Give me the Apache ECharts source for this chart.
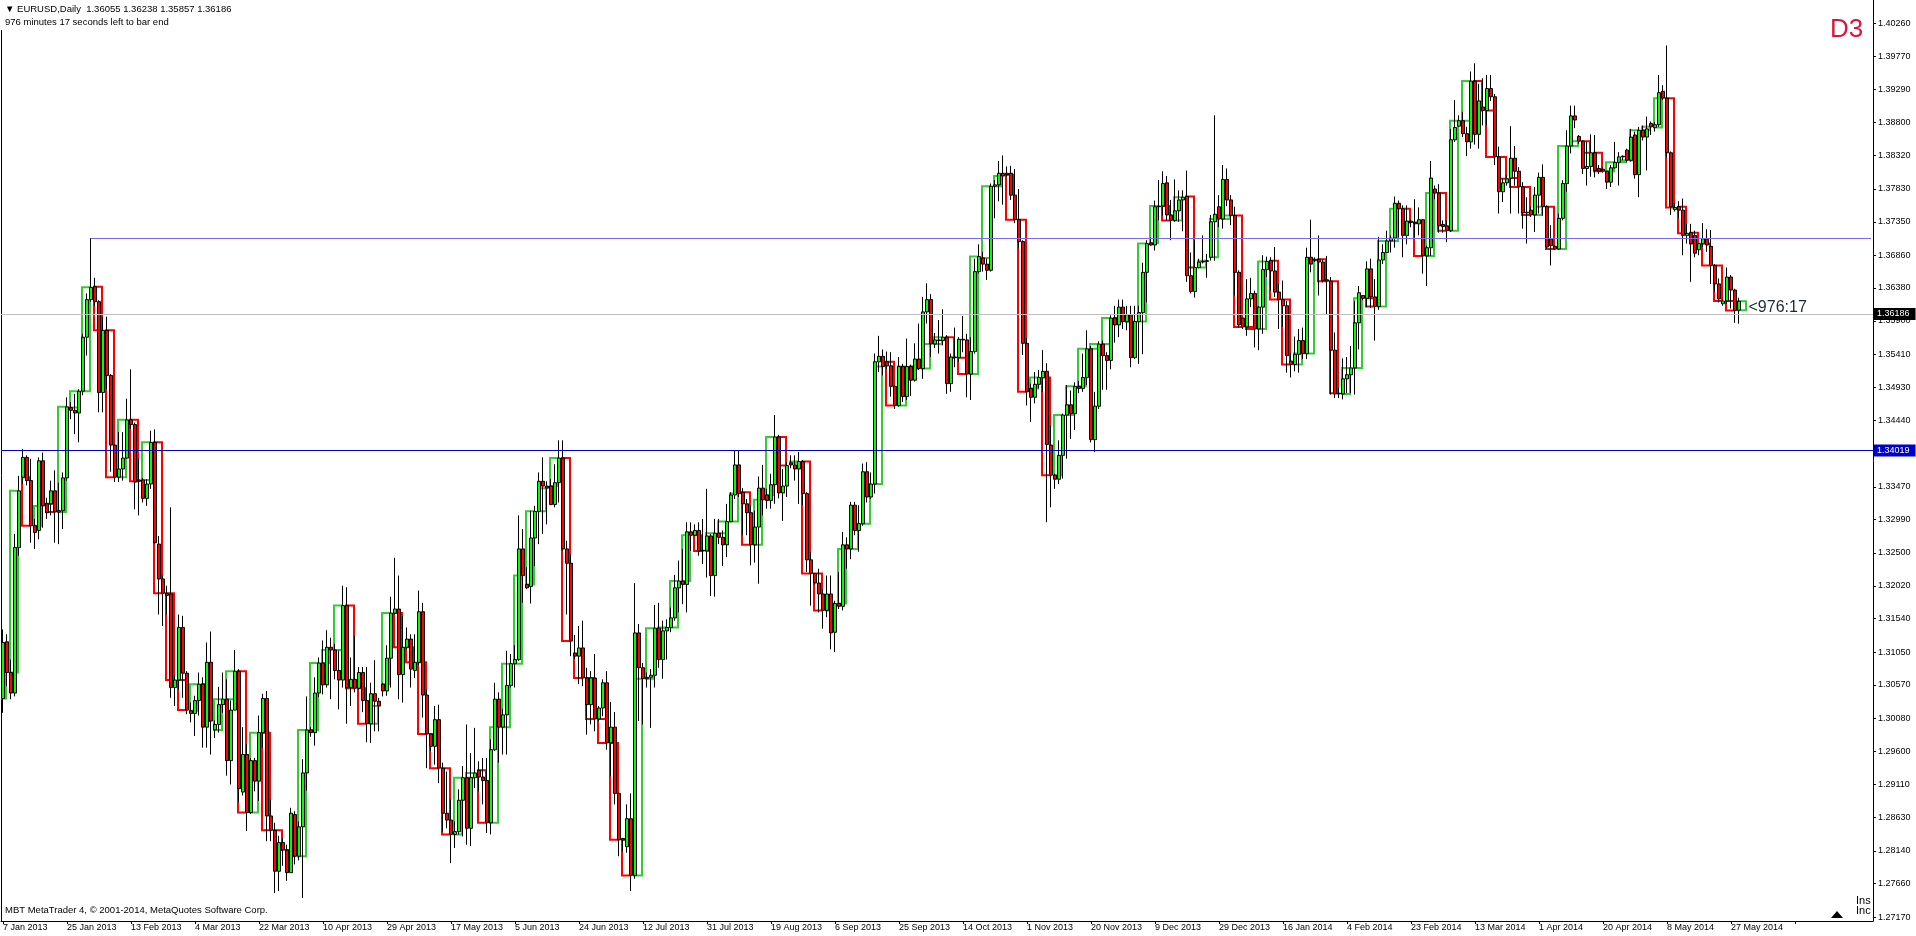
<!DOCTYPE html>
<html><head><meta charset="utf-8">
<script src="https://cdn.jsdelivr.net/npm/echarts@6/dist/echarts.min.js"></script>
<style>html,body{margin:0;padding:0;background:#fff;overflow:hidden}#c{width:1916px;height:936px}</style>
</head><body><div id="c"></div>
<script>
// ---- data ----
const symbolName = 'EURUSD,Daily';
const timerText = '<976:17';
const timerLine = '976 minutes 17 seconds left to bar end';
const xLabels = ['7 Jan 2013','25 Jan 2013','13 Feb 2013','4 Mar 2013','22 Mar 2013','10 Apr 2013','29 Apr 2013','17 May 2013','5 Jun 2013','24 Jun 2013','12 Jul 2013','31 Jul 2013','19 Aug 2013','6 Sep 2013','25 Sep 2013','14 Oct 2013','1 Nov 2013','20 Nov 2013','9 Dec 2013','29 Dec 2013','16 Jan 2014','4 Feb 2014','23 Feb 2014','13 Mar 2014','1 Apr 2014','20 Apr 2014','8 May 2014','27 May 2014'];
const labelStep = 16;
const yTicks = [1.40260,1.39770,1.39290,1.38800,1.38320,1.37830,1.37350,1.36860,1.36380,1.35900,1.35410,1.34930,1.34440,1.33950,1.33470,1.32990,1.32500,1.32020,1.31540,1.31050,1.30570,1.30080,1.29600,1.29110,1.28630,1.28140,1.27660,1.27170];
const bidPrice = 1.36186;
const supportLevel = 1.34019;
const resistanceLevel = 1.37107;
const resistanceStartBar = 22;

const openP = [
1.3037,1.3120,1.3075,1.3045,1.3258,1.3361,1.3390,1.3356,1.3290,1.3283,
1.3385,1.3322,1.3322,1.3341,1.3310,1.3312,1.3360,1.3463,1.3459,1.3455,
1.3487,1.3566,1.3621,1.3640,1.3618,1.3485,1.3576,1.3510,1.3408,1.3361,
1.3373,1.3389,1.3445,1.3438,1.3357,1.3357,1.3330,1.3351,1.3412,1.3263,
1.3212,1.3191,1.3190,1.3053,1.3064,1.3141,1.3074,1.3019,1.3015,1.3034,
1.3058,1.2995,1.3090,1.2991,1.2999,1.3028,1.3036,1.2946,1.3020,1.3077,
1.2900,1.2955,1.2870,1.2946,1.2916,1.2987,1.3037,1.2865,1.2844,1.2784,
1.2826,1.2815,1.2782,1.2867,1.2806,1.2849,1.2928,1.2991,1.2987,1.3045,
1.3089,1.3057,1.3112,1.3108,1.3078,1.3064,1.3173,1.3053,1.3065,1.3052,
1.3075,1.3034,1.3000,1.3044,1.3033,1.3058,1.3048,1.3096,1.3162,1.3168,
1.3072,1.3112,1.3124,1.3078,1.3090,1.3164,1.3042,1.2985,1.2967,1.3006,
1.2935,1.2869,1.2859,1.2838,1.2842,1.2888,1.2921,1.2847,1.2921,1.2932,
1.2922,1.2917,1.2855,1.2962,1.3036,1.2995,1.3013,1.3056,1.3088,1.3094,
1.3256,1.3204,1.3201,1.3272,1.3311,1.3355,1.3348,1.3348,1.3321,1.3353,
1.3389,1.3256,1.3235,1.3103,1.3099,1.3111,1.3067,1.3028,1.3067,1.3007,
1.3023,1.3060,1.2972,1.2995,1.2898,1.2830,1.2820,1.2861,1.2778,1.3133,
1.3082,1.3066,1.3068,1.3071,1.3140,1.3094,1.3136,1.3141,1.3155,1.3199,
1.3209,1.3204,1.3281,1.3276,1.3283,1.3254,1.3253,1.3275,1.3217,1.3279,
1.3273,1.3262,1.3296,1.3335,1.3379,1.3339,1.3322,1.3309,1.3262,1.3288,
1.3345,1.3335,1.3327,1.3350,1.3420,1.3338,1.3348,1.3382,1.3379,1.3373,
1.3384,1.3337,1.3240,1.3220,1.3206,1.3190,1.3166,1.3190,1.3134,1.3176,
1.3172,1.3262,1.3256,1.3320,1.3283,1.3293,1.3369,1.3332,1.3351,1.3530,
1.3538,1.3530,1.3524,1.3494,1.3466,1.3523,1.3479,1.3523,1.3503,1.3534,
1.3520,1.3603,1.3621,1.3556,1.3562,1.3561,1.3566,1.3498,1.3537,1.3536,
1.3563,1.3562,1.3512,1.3545,1.3662,1.3682,1.3673,1.3664,1.3787,1.3789,
1.3806,1.3804,1.3806,1.3774,1.3738,1.3706,1.3557,1.3491,1.3478,1.3497,
1.3507,1.3516,1.3408,1.3364,1.3358,1.3393,1.3452,1.3467,1.3454,1.3494,
1.3491,1.3507,1.3549,1.3416,1.3465,1.3556,1.3539,1.3532,1.3594,1.3584,
1.3610,1.3589,1.3599,1.3536,1.3589,1.3602,1.3661,1.3704,1.3701,1.3757,
1.3758,1.3792,1.3745,1.3737,1.3751,1.3767,1.3772,1.3656,1.3633,1.3668,
1.3676,1.3677,1.3683,1.3735,1.3757,1.3739,1.3797,1.3767,1.3744,1.3661,
1.3594,1.3581,1.3622,1.3630,1.3578,1.3610,1.3665,1.3678,1.3663,1.3632,
1.3621,1.3612,1.3531,1.3526,1.3541,1.3561,1.3542,1.3683,1.3678,1.3680,
1.3676,1.3650,1.3648,1.3547,1.3483,1.3483,1.3505,1.3511,1.3521,1.3587,
1.3627,1.3623,1.3666,1.3625,1.3611,1.3679,1.3690,1.3707,1.3711,1.3762,
1.3754,1.3715,1.3736,1.3734,1.3732,1.3738,1.3685,1.3697,1.3783,1.3777,
1.3731,1.3729,1.3722,1.3855,1.3875,1.3883,1.3864,1.3852,1.3941,1.3863,
1.3903,1.3898,1.3930,1.3918,1.3830,1.3779,1.3792,1.3799,1.3828,1.3809,
1.3786,1.3748,1.3752,1.3745,1.3774,1.3800,1.3757,1.3710,1.3699,1.3695,
1.3740,1.3791,1.3846,1.3890,1.3860,1.3853,1.3813,1.3816,1.3836,1.3813,
1.3812,1.3809,1.3793,1.3814,1.3822,1.3830,1.3840,1.3825,1.3862,1.3804,
1.3869,1.3859,1.3879,1.3873,1.3877,1.3926,1.3916,1.3836,1.3753,1.3757,
1.3752,1.3715,1.3719,1.3715,1.3694,1.3703,1.3710,1.3699,1.3671,1.3644,
1.3615,1.3619,1.3654,1.3635,1.36055];

const highP = [
1.3138,1.3131,1.3094,1.3278,1.3363,1.3402,1.3393,1.3388,1.3300,1.3390,
1.3397,1.3331,1.3356,1.3371,1.3353,1.3368,1.3478,1.3471,1.3483,1.3490,
1.3571,1.3630,1.3711,1.3653,1.3620,1.3596,1.3596,1.3512,1.3410,1.3427,
1.3427,1.3476,1.3519,1.3441,1.3388,1.3360,1.3358,1.3429,1.3431,1.3275,
1.3217,1.3202,1.3317,1.3070,1.3160,1.3158,1.3077,1.3031,1.3041,1.3075,
1.3068,1.3119,1.3135,1.3005,1.3054,1.3075,1.3065,1.3034,1.3108,1.3080,
1.2995,1.2970,1.2950,1.2950,1.3012,1.3044,1.3048,1.2889,1.2855,1.2836,
1.2833,1.2823,1.2877,1.2872,1.2857,1.2948,1.3040,1.2995,1.3068,1.3097,
1.3122,1.3137,1.3126,1.3117,1.3107,1.3202,1.3200,1.3097,1.3129,1.3083,
1.3083,1.3083,1.3060,1.3093,1.3038,1.3060,1.3115,1.3186,1.3243,1.3217,
1.3158,1.3141,1.3131,1.3131,1.3195,1.3177,1.3050,1.2986,1.3026,1.3028,
1.2943,1.2930,1.2889,1.2857,1.2904,1.2938,1.2999,1.2957,1.2994,1.2945,
1.2950,1.2950,1.2977,1.3060,1.3046,1.3022,1.3107,1.3102,1.3115,1.3305,
1.3285,1.3229,1.3312,1.3319,1.3368,1.3390,1.3355,1.3358,1.3380,1.3415,
1.3415,1.3268,1.3248,1.3130,1.3143,1.3151,1.3082,1.3077,1.3102,1.3026,
1.3065,1.3077,1.3032,1.3017,1.2899,1.2833,1.2882,1.2898,1.3206,1.3146,
1.3089,1.3075,1.3080,1.3174,1.3177,1.3151,1.3153,1.3170,1.3218,1.3239,
1.3256,1.3295,1.3295,1.3292,1.3295,1.3300,1.3344,1.3278,1.3300,1.3300,
1.3283,1.3322,1.3339,1.3400,1.3400,1.3345,1.3329,1.3320,1.3312,1.3362,
1.3379,1.3344,1.3366,1.3452,1.3423,1.3373,1.3383,1.3393,1.3393,1.3398,
1.3386,1.3339,1.3251,1.3220,1.3227,1.3197,1.3217,1.3217,1.3180,1.3222,
1.3281,1.3273,1.3325,1.3325,1.3320,1.3381,1.3383,1.3368,1.3542,1.3568,
1.3548,1.3545,1.3544,1.3496,1.3537,1.3527,1.3564,1.3526,1.3557,1.3586,
1.3625,1.3645,1.3629,1.3572,1.3591,1.3607,1.3569,1.3542,1.3580,1.3566,
1.3597,1.3571,1.3566,1.3681,1.3702,1.3691,1.3681,1.3791,1.3796,1.3824,
1.3832,1.3816,1.3817,1.3812,1.3783,1.3708,1.3565,1.3498,1.3515,1.3518,
1.3547,1.3528,1.3437,1.3366,1.3415,1.3454,1.3496,1.3488,1.3500,1.3502,
1.3542,1.3576,1.3553,1.3486,1.3560,1.3561,1.3544,1.3598,1.3612,1.3621,
1.3621,1.3612,1.3612,1.3612,1.3612,1.3675,1.3708,1.3712,1.3766,1.3796,
1.3809,1.3802,1.3767,1.3797,1.3781,1.3781,1.3810,1.3690,1.3708,1.3681,
1.3715,1.3688,1.3745,1.3891,1.3774,1.3818,1.3813,1.3774,1.3757,1.3664,
1.3595,1.3651,1.3653,1.3634,1.3612,1.3686,1.3684,1.3683,1.3698,1.3644,
1.3649,1.3619,1.3543,1.3567,1.3578,1.3580,1.3697,1.3738,1.3683,1.3715,
1.3680,1.3685,1.3654,1.3573,1.3492,1.3535,1.3537,1.3553,1.3619,1.3641,
1.3627,1.3677,1.3681,1.3651,1.3713,1.3702,1.3722,1.3715,1.3772,1.3766,
1.3759,1.3759,1.3739,1.3768,1.3756,1.3739,1.3700,1.3824,1.3788,1.3790,
1.3737,1.3737,1.3871,1.3913,1.3891,1.3896,1.3874,1.3955,1.3967,1.3937,
1.3945,1.3950,1.3950,1.3922,1.3845,1.3798,1.3803,1.3875,1.3846,1.3815,
1.3793,1.3771,1.3757,1.3786,1.3807,1.3819,1.3759,1.3730,1.3701,1.3747,
1.3796,1.3869,1.3905,1.3905,1.3862,1.3854,1.3852,1.3863,1.3862,1.3818,
1.3815,1.3810,1.3818,1.3852,1.3837,1.3832,1.3842,1.3871,1.3867,1.3874,
1.3876,1.3889,1.3882,1.3881,1.3950,1.3935,1.3993,1.3838,1.3762,1.3765,
1.3769,1.3732,1.3732,1.3722,1.3703,1.3733,1.3724,1.3723,1.3673,1.3652,
1.3622,1.3668,1.3657,1.3637,1.36238];

const lowP = [
1.3016,1.3055,1.3036,1.3040,1.3246,1.3351,1.3349,1.3265,1.3256,1.3270,
1.3287,1.3300,1.3305,1.3265,1.3263,1.3285,1.3356,1.3446,1.3424,1.3412,
1.3481,1.3539,1.3618,1.3612,1.3456,1.3456,1.3490,1.3369,1.3354,1.3354,
1.3356,1.3388,1.3432,1.3314,1.3305,1.3324,1.3319,1.3344,1.3263,1.3160,
1.3143,1.3160,1.3038,1.3026,1.3050,1.3038,1.3014,1.3002,1.2982,1.3012,
1.2965,1.2965,1.2955,1.2979,1.2987,1.3016,1.2924,1.2911,1.3020,1.2885,
1.2895,1.2843,1.2868,1.2901,1.2887,1.2965,1.2828,1.2828,1.2752,1.2755,
1.2792,1.2770,1.2782,1.2794,1.2800,1.2745,1.2902,1.2981,1.2968,1.3039,
1.3043,1.3053,1.3036,1.3065,1.3021,1.3053,1.3000,1.3026,1.3046,1.3050,
1.3017,1.2973,1.2972,1.2989,1.2989,1.3040,1.3041,1.3053,1.3160,1.3036,
1.3031,1.3109,1.3053,1.3067,1.3086,1.3009,1.2935,1.2960,1.2940,1.2913,
1.2842,1.2847,1.2796,1.2818,1.2838,1.2835,1.2823,1.2821,1.2906,1.2901,
1.2882,1.2840,1.2838,1.2960,1.2943,1.2955,1.2955,1.3053,1.3053,1.3092,
1.3177,1.3197,1.3176,1.3231,1.3263,1.3278,1.3292,1.3320,1.3317,1.3324,
1.3253,1.3160,1.3099,1.3095,1.3058,1.3055,1.2984,1.2999,1.2989,1.3004,
1.3011,1.2962,1.2923,1.2882,1.2806,1.2813,1.2811,1.2755,1.2773,1.3004,
1.2999,1.3053,1.2994,1.3053,1.3082,1.3066,1.3094,1.3134,1.3151,1.3163,
1.3175,1.3163,1.3253,1.3275,1.3246,1.3234,1.3214,1.3187,1.3186,1.3263,
1.3231,1.3244,1.3295,1.3329,1.3332,1.3276,1.3276,1.3232,1.3236,1.3205,
1.3305,1.3315,1.3315,1.3322,1.3330,1.3297,1.3332,1.3374,1.3356,1.3322,
1.3320,1.3222,1.3173,1.3204,1.3163,1.3139,1.3156,1.3109,1.3105,1.3168,
1.3166,1.3227,1.3241,1.3276,1.3252,1.3290,1.3324,1.3329,1.3337,1.3515,
1.3510,1.3520,1.3479,1.3461,1.3464,1.3471,1.3474,1.3480,1.3501,1.3518,
1.3505,1.3586,1.3537,1.3550,1.3542,1.3554,1.3483,1.3486,1.3522,1.3530,
1.3544,1.3478,1.3474,1.3542,1.3659,1.3662,1.3650,1.3662,1.3740,1.3765,
1.3760,1.3801,1.3767,1.3733,1.3696,1.3540,1.3466,1.3442,1.3469,1.3491,
1.3486,1.3295,1.3317,1.3344,1.3351,1.3359,1.3388,1.3417,1.3430,1.3484,
1.3486,1.3496,1.3412,1.3398,1.3461,1.3489,1.3489,1.3519,1.3558,1.3566,
1.3578,1.3576,1.3522,1.3534,1.3527,1.3541,1.3617,1.3700,1.3693,1.3737,
1.3744,1.3737,1.3708,1.3735,1.3735,1.3721,1.3647,1.3630,1.3624,1.3667,
1.3674,1.3653,1.3678,1.3678,1.3727,1.3725,1.3758,1.3730,1.3627,1.3580,
1.3578,1.3568,1.3610,1.3551,1.3547,1.3571,1.3654,1.3634,1.3625,1.3578,
1.3581,1.3514,1.3507,1.3516,1.3514,1.3534,1.3534,1.3661,1.3676,1.3627,
1.3646,1.3600,1.3482,1.3477,1.3477,1.3475,1.3484,1.3484,1.3482,1.3548,
1.3620,1.3610,1.3609,1.3561,1.3606,1.3673,1.3690,1.3690,1.3697,1.3712,
1.3683,1.3702,1.3727,1.3712,1.3715,1.3659,1.3641,1.3685,1.3768,1.3719,
1.3719,1.3705,1.3720,1.3852,1.3874,1.3859,1.3831,1.3842,1.3848,1.3842,
1.3876,1.3876,1.3912,1.3818,1.3747,1.3764,1.3788,1.3747,1.3788,1.3747,
1.3725,1.3703,1.3742,1.3720,1.3747,1.3744,1.3695,1.3671,1.3694,1.3694,
1.3737,1.3779,1.3835,1.3872,1.3849,1.3805,1.3788,1.3801,1.3800,1.3805,
1.3807,1.3783,1.3786,1.3813,1.3788,1.3825,1.3822,1.3823,1.3798,1.3771,
1.3854,1.3810,1.3862,1.3867,1.3874,1.3913,1.3829,1.3745,1.3750,1.3740,
1.3686,1.3703,1.3647,1.3683,1.3686,1.3698,1.3691,1.3644,1.3632,1.3617,
1.3612,1.3615,1.3608,1.3587,1.35857];

const closeP = [
1.3119,1.3075,1.3045,1.3258,1.3341,1.3390,1.3356,1.3290,1.3280,1.3385,
1.3319,1.3309,1.3341,1.3310,1.3312,1.3360,1.3464,1.3459,1.3455,1.3487,
1.3566,1.3621,1.3639,1.3618,1.3485,1.3576,1.3510,1.3408,1.3361,1.3373,
1.3389,1.3445,1.3438,1.3354,1.3355,1.3330,1.3351,1.3412,1.3265,1.3212,
1.3191,1.3188,1.3053,1.3064,1.3141,1.3074,1.3020,1.3015,1.3034,1.3058,
1.2995,1.3090,1.3004,1.2999,1.3028,1.3036,1.2946,1.3020,1.3077,1.2905,
1.2955,1.2870,1.2946,1.2916,1.2987,1.3037,1.2865,1.2844,1.2784,1.2826,
1.2815,1.2782,1.2869,1.2806,1.2849,1.2928,1.2991,1.2987,1.3045,1.3089,
1.3057,1.3112,1.3108,1.3078,1.3064,1.3173,1.3053,1.3065,1.3052,1.3075,
1.3034,1.3000,1.3044,1.3033,1.3026,1.3048,1.3096,1.3162,1.3168,1.3072,
1.3112,1.3124,1.3080,1.3090,1.3164,1.3042,1.2985,1.2967,1.3006,1.2935,
1.2869,1.2859,1.2838,1.2842,1.2888,1.2921,1.2847,1.2921,1.2928,1.2922,
1.2917,1.2855,1.2962,1.3036,1.2995,1.3013,1.3056,1.3088,1.3094,1.3256,
1.3217,1.3199,1.3272,1.3311,1.3355,1.3348,1.3345,1.3321,1.3353,1.3389,
1.3256,1.3235,1.3121,1.3099,1.3111,1.3067,1.3028,1.3067,1.3007,1.3023,
1.3060,1.2972,1.2995,1.2898,1.2830,1.2832,1.2861,1.2778,1.3133,1.3082,
1.3066,1.3068,1.3071,1.3140,1.3094,1.3136,1.3141,1.3155,1.3199,1.3209,
1.3204,1.3281,1.3276,1.3283,1.3253,1.3253,1.3275,1.3217,1.3279,1.3273,
1.3262,1.3296,1.3335,1.3379,1.3337,1.3322,1.3309,1.3262,1.3288,1.3345,
1.3328,1.3327,1.3350,1.3420,1.3338,1.3348,1.3378,1.3379,1.3373,1.3384,
1.3337,1.3240,1.3220,1.3206,1.3190,1.3166,1.3190,1.3133,1.3176,1.3172,
1.3262,1.3256,1.3320,1.3283,1.3293,1.3369,1.3332,1.3351,1.3530,1.3538,
1.3523,1.3524,1.3494,1.3466,1.3523,1.3479,1.3523,1.3503,1.3534,1.3520,
1.3603,1.3621,1.3556,1.3562,1.3561,1.3566,1.3498,1.3537,1.3536,1.3563,
1.3562,1.3512,1.3545,1.3662,1.3684,1.3673,1.3664,1.3787,1.3789,1.3806,
1.3802,1.3806,1.3774,1.3738,1.3706,1.3557,1.3486,1.3478,1.3497,1.3507,
1.3516,1.3409,1.3364,1.3358,1.3393,1.3452,1.3467,1.3454,1.3494,1.3491,
1.3507,1.3549,1.3416,1.3465,1.3556,1.3539,1.3532,1.3594,1.3584,1.3610,
1.3589,1.3599,1.3536,1.3589,1.3602,1.3661,1.3703,1.3701,1.3757,1.3758,
1.3791,1.3745,1.3737,1.3751,1.3767,1.3771,1.3656,1.3633,1.3668,1.3676,
1.3677,1.3678,1.3735,1.3746,1.3739,1.3797,1.3767,1.3744,1.3661,1.3584,
1.3581,1.3622,1.3630,1.3578,1.3610,1.3665,1.3677,1.3663,1.3632,1.3621,
1.3612,1.3539,1.3526,1.3541,1.3561,1.3542,1.3683,1.3673,1.3680,1.3676,
1.3649,1.3648,1.3547,1.3483,1.3484,1.3505,1.3511,1.3521,1.3587,1.3631,
1.3623,1.3666,1.3625,1.3611,1.3679,1.3690,1.3707,1.3711,1.3762,1.3754,
1.3715,1.3736,1.3734,1.3732,1.3738,1.3685,1.3697,1.3799,1.3777,1.3729,
1.3728,1.3722,1.3855,1.3873,1.3883,1.3864,1.3852,1.3941,1.3863,1.3912,
1.3898,1.3930,1.3918,1.3830,1.3779,1.3792,1.3798,1.3828,1.3809,1.3786,
1.3748,1.3749,1.3745,1.3774,1.3800,1.3757,1.3698,1.3700,1.3695,1.3740,
1.3791,1.3846,1.3890,1.3884,1.3853,1.3813,1.3816,1.3836,1.3810,1.3809,
1.3809,1.3793,1.3814,1.3822,1.3830,1.3831,1.3825,1.3859,1.3804,1.3869,
1.3859,1.3871,1.3874,1.3877,1.3924,1.3916,1.3836,1.3757,1.3756,1.3752,
1.3715,1.3718,1.3703,1.3689,1.3703,1.3710,1.3701,1.3671,1.3644,1.3622,
1.3619,1.3654,1.3635,1.3605,1.36186];

// ---- layout / scale settings ----
const slotCount = 468;         // bars + chart shift space
const yMax = 1.40597, yMin = 1.27112;
const groupSize = 3, firstGroupStart = 2;

const cats = Array.from({length: slotCount}, (_, i) => String(i));
const candleData = openP.map((o, i) => [o, closeP[i], lowP[i], highP[i]]);
const last = openP.length - 1;

// 3-bar aggregated boxes (D3)
const boxes = [[0, 1, openP[0], closeP[1]]];
for (let s = firstGroupStart; s <= last; s += groupSize) {
  const e = Math.min(s + groupSize - 1, last);
  boxes.push([s, s + groupSize - 1, openP[s], closeP[e]]);
}

const FONT = '"Liberation Sans", "DejaVu Sans", sans-serif';
const chart = echarts.init(document.getElementById('c'), null, {renderer: 'canvas'});
const f5 = v => v.toFixed(5);

chart.setOption({
  animation: false,
  backgroundColor: '#ffffff',
  grid: {left: 1, right: 43, top: 0, bottom: 15, show: false},
  xAxis: {
    type: 'category', data: cats, boundaryGap: true,
    axisLine: {show: true, lineStyle: {color: '#000', width: 1}},
    axisTick: {show: true, interval: labelStep - 1, alignWithLabel: true, length: 3, lineStyle: {color: '#000'}},
    axisLabel: {
      interval: labelStep - 1, hideOverlap: false, showMaxLabel: false,
      formatter: (v, idx) => (idx % labelStep === 0 && xLabels[idx / labelStep]) ? xLabels[idx / labelStep] : '',
      align: 'left', margin: 2, fontSize: 9, color: '#000', fontFamily: FONT
    },
    splitLine: {show: false}
  },
  yAxis: {
    type: 'value', position: 'right', min: yMin, max: yMax,
    axisLine: {show: true, onZero: false, lineStyle: {color: '#000', width: 1}},
    axisTick: {show: true, length: 3, customValues: yTicks, lineStyle: {color: '#000'}},
    axisLabel: {customValues: yTicks, formatter: f5, fontSize: 9, color: '#000', margin: 5, fontFamily: FONT},
    splitLine: {show: false}
  },
  series: [
    {
      type: 'custom', name: 'D3', silent: true, z: 1,
      data: boxes, encode: {x: [0, 1], y: [2, 3]},
      renderItem: (params, api) => {
        const s = api.value(0), e = api.value(1), o = api.value(2), c = api.value(3);
        const p1 = api.coord([s, o]), p2 = api.coord([e, c]);
        const x = Math.round(p1[0]) - 1, w = Math.round(p2[0]) - Math.round(p1[0]);
        const y = Math.min(p1[1], p2[1]), h = Math.max(Math.abs(p2[1] - p1[1]), 0.5);
        return {type: 'rect', shape: {x: x, y: y, width: w, height: h},
          style: {fill: 'none', stroke: c >= o ? '#32CD32' : '#FF0000', lineWidth: 2}};
      }
    },
    {
      type: 'candlestick', name: 'EURUSD', z: 3,
      data: candleData, barWidth: 3,
      itemStyle: {color: '#00FF00', color0: '#FF0000', borderColor: '#000', borderColor0: '#000', borderColorDoji: '#000', borderWidth: 1},
      markLine: {
        silent: true, symbol: ['none', 'none'], animation: false,
        data: [
          [{coord: [resistanceStartBar, resistanceLevel], lineStyle: {color: '#7B68EE', width: 1, type: 'solid'}, label: {show: false}},
           {coord: [slotCount - 1, resistanceLevel]}],
          {yAxis: bidPrice, lineStyle: {color: '#C0C0C0', width: 1, type: 'solid'},
           label: {show: true, position: 'end', distance: 1, formatter: f5(bidPrice), backgroundColor: '#000', color: '#fff', padding: [2, 6, 1, 3], fontSize: 9, fontFamily: FONT}},
          {yAxis: supportLevel, lineStyle: {color: '#0000CD', width: 1, type: 'solid'},
           label: {show: true, position: 'end', distance: 1, formatter: f5(supportLevel), backgroundColor: '#0000CD', color: '#fff', padding: [2, 6, 1, 3], fontSize: 9, fontFamily: FONT}}
        ]
      },
      markPoint: {
        silent: true, symbol: 'rect', symbolSize: 1, itemStyle: {color: 'transparent'},
        data: [{coord: [last, bidPrice]}],
        label: {show: true, position: 'right', distance: 9, offset: [0, 6], formatter: timerText, fontSize: 16, color: '#1C2833', fontFamily: FONT}
      }
    }
  ],
  graphic: [
    {type: 'line', silent: true, shape: {x1: 1.5, y1: 30, x2: 1.5, y2: 921}, style: {stroke: '#000', lineWidth: 1}},
    {type: 'text', left: 5, top: 4, silent: true, style: {text: '\u25BC ' + symbolName + '  ' + [openP[last], highP[last], lowP[last], closeP[last]].map(f5).join(' '), fontSize: 9.5, fontFamily: FONT, fill: '#000'}},
    {type: 'text', left: 5, top: 17, silent: true, style: {text: timerLine, fontSize: 9.5, fontFamily: FONT, fill: '#000'}},
    {type: 'text', left: 1830, top: 17, silent: true, style: {text: 'D3', fontSize: 26, fontFamily: FONT, fill: '#DC143C'}},
    {type: 'text', left: 5, top: 905, silent: true, style: {text: 'MBT MetaTrader 4, \u00A9 2001-2014, MetaQuotes Software Corp.', fontSize: 9.5, fontFamily: FONT, fill: '#000'}},
    {type: 'text', left: 1856, top: 895, silent: true, style: {text: 'Ins', fontSize: 11, fontFamily: FONT, fill: '#000'}},
    {type: 'text', left: 1856, top: 905, silent: true, style: {text: 'Inc', fontSize: 11, fontFamily: FONT, fill: '#000'}},
    {type: 'polygon', silent: true, shape: {points: [[1831, 918], [1843, 918], [1837, 911]]}, style: {fill: '#000'}}
  ]
});
</script>
</body></html>
